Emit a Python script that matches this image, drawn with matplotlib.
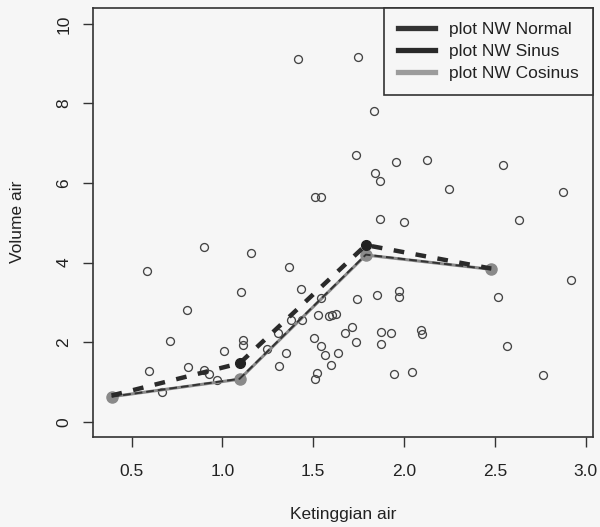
import matplotlib
matplotlib.use("Agg")
import matplotlib.pyplot as plt
from matplotlib.lines import Line2D

plt.rcParams['font.family'] = ['Liberation Sans', 'DejaVu Sans']

# Observed data (Ketinggian air vs Volume air)
obs_x = [0.898, 1.157, 1.417, 1.748, 1.834, 1.737, 1.953, 1.838, 1.865, 1.508,
         1.545, 1.865, 1.997, 2.136, 2.125, 2.547, 2.245, 2.876, 2.635, 0.583,
         1.100, 0.805, 0.713, 1.111, 1.114, 1.010, 0.594, 0.810, 0.900, 0.926,
         0.970, 0.666, 1.365, 1.431, 1.545, 1.380, 1.438, 1.526, 1.587, 1.605,
         1.624, 1.307, 1.243, 1.353, 1.312, 1.503, 1.545, 1.567, 1.596, 1.636,
         1.523, 1.508, 1.673, 1.713, 1.737, 1.743, 1.853, 1.970, 1.970, 1.875,
         1.926, 1.875, 2.094, 2.098, 1.944, 2.043, 2.516, 2.565, 2.765, 2.920]
obs_y = [4.40, 4.25, 9.11, 9.17, 7.81, 6.71, 6.52, 6.26, 6.05, 5.65,
         5.65, 5.09, 5.02, 8.35, 6.58, 6.46, 5.85, 5.77, 5.07, 3.79,
         3.27, 2.82, 2.04, 2.05, 1.93, 1.78, 1.28, 1.37, 1.30, 1.20,
         1.05, 0.74, 3.88, 3.33, 3.12, 2.57, 2.57, 2.68, 2.66, 2.68,
         2.72, 2.22, 1.82, 1.74, 1.40, 2.11, 1.91, 1.69, 1.42, 1.74,
         1.22, 1.07, 2.24, 2.39, 2.01, 3.08, 3.18, 3.29, 3.14, 2.25,
         2.22, 1.95, 2.30, 2.20, 1.21, 1.24, 3.14, 1.91, 1.17, 3.56]

# Nadaraya-Watson estimates
nw_x = [0.39, 1.095, 1.79, 2.48]
nw_normal = [0.63, 1.08, 4.20, 3.83]
nw_sinus = [0.66, 1.47, 4.44, 3.85]
nw_cosinus = [0.63, 1.07, 4.19, 3.83]

legend_labels = ["plot NW Normal", "plot NW Sinus", "plot NW Cosinus"]
x_ticks = [0.5, 1.0, 1.5, 2.0, 2.5, 3.0]
y_ticks = [0, 2, 4, 6, 8, 10]

FS = 12.5
bg = '#f6f6f6'
fig = plt.figure(figsize=(6.0, 5.27), dpi=100, facecolor=bg)
ax = fig.add_axes([93/600, 1-437.3/527, 500/600, 429/527], facecolor=bg)

ax.plot(obs_x, obs_y, linestyle='none', marker='o', markersize=5.7,
        markerfacecolor='none', markeredgecolor='#444444', markeredgewidth=0.95)

ax.plot(nw_x, nw_cosinus, color='#8a8a8a', lw=2.2, marker='o', markersize=8,
        markerfacecolor='#8a8a8a', markeredgecolor='#8a8a8a', zorder=3)
ax.plot(nw_x, nw_normal, color='#333333', lw=1.4, linestyle=(0, (4, 2)), zorder=4)
ax.plot(nw_x, nw_sinus, color='#2a2a2a', lw=3.2, linestyle=(0, (2.4, 2.6)),
        zorder=5)
ax.plot(nw_x[1:3], nw_sinus[1:3], linestyle='none', marker='o', markersize=7,
        color='#222222', zorder=6)

ax.set_xlim(0.288, 3.04)
ax.set_ylim(-0.39, 10.39)
ax.set_xticks(x_ticks)
ax.set_xticklabels([f"{v:.1f}" for v in x_ticks])
ax.set_yticks(y_ticks)
ax.set_yticklabels([str(v) for v in y_ticks], rotation=90, va='center')

for s in ax.spines.values():
    s.set_color('#333333')
    s.set_linewidth(1.2)
ax.tick_params(axis='both', direction='out', length=7, width=1.0,
               color='#333333', labelsize=FS, labelcolor='#222222')
ax.tick_params(axis='x', pad=12)
ax.tick_params(axis='y', pad=8.5)

fig.text(343/600, 1-514/527, "Ketinggian air", fontsize=FS, color='#222222',
         ha='center', va='center')
fig.text(18/600, 1-222/527, "Volume air", fontsize=FS, color='#222222',
         ha='center', va='center', rotation=90)

handles = [Line2D([], [], color='#333333', lw=3.8),
           Line2D([], [], color='#2a2a2a', lw=3.8),
           Line2D([], [], color='#9c9c9c', lw=3.8)]
leg = ax.legend(handles, legend_labels, loc='upper right', fontsize=FS,
                frameon=True, fancybox=False, borderaxespad=0,
                handlelength=2.1, handletextpad=0.85, labelspacing=0.38,
                borderpad=0.8)
leg.get_frame().set_edgecolor('#333333')
leg.get_frame().set_linewidth(1.2)
leg.get_frame().set_facecolor(bg)
leg.get_frame().set_alpha(1)
for t in leg.get_texts():
    t.set_color('#222222')

fig.savefig("out.png", dpi=100, facecolor=bg)
